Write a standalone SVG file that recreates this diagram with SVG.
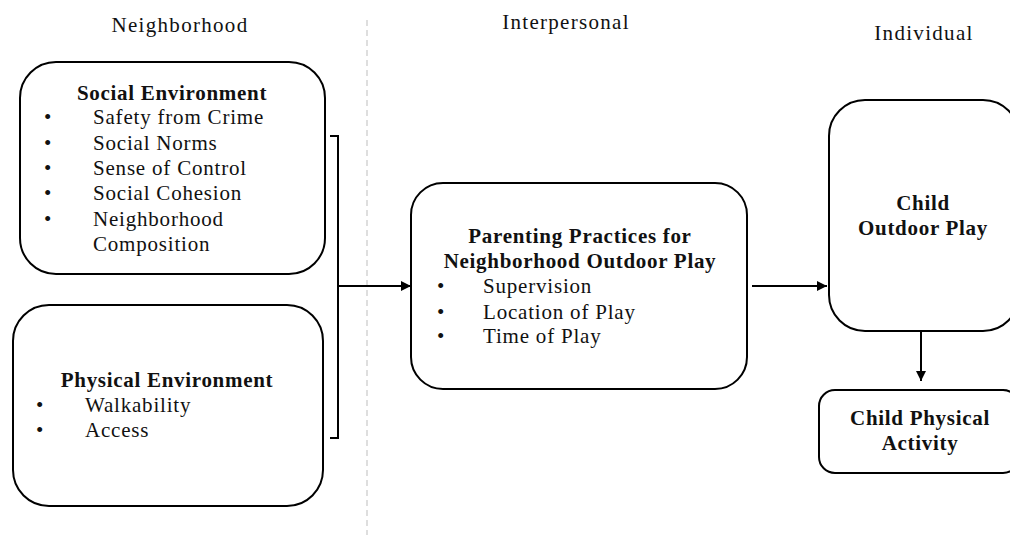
<svg xmlns="http://www.w3.org/2000/svg" width="1010" height="535" viewBox="0 0 1010 535">
<defs>
<marker id="ah" viewBox="0 0 10 10" refX="10" refY="5" markerWidth="10" markerHeight="10" markerUnits="userSpaceOnUse" orient="auto">
<path d="M0,0 L10,5 L0,10 Z" fill="#000"/>
</marker>
<style>
text{font-family:"Liberation Serif","Times New Roman",serif;font-size:21px;fill:#111;letter-spacing:0.8px}
.h{letter-spacing:1.3px}
.b{font-weight:bold;letter-spacing:0.7px}
.m{text-anchor:middle}
.d{letter-spacing:0}
.box{fill:#fff;stroke:#000;stroke-width:2}
.ln{fill:none;stroke:#000;stroke-width:2}
</style>
</defs>
<rect width="1010" height="535" fill="#fff"/>
<line x1="367" y1="20" x2="367" y2="535" stroke="#c8c8c8" stroke-width="1.2" stroke-dasharray="6,4"/>
<g id="headers">
<text class="h m" x="180" y="32">Neighborhood</text>
<text class="h m" x="566" y="29">Interpersonal</text>
<text class="h m" x="924" y="40">Individual</text>
</g>
<g id="social">
<rect class="box" x="20" y="62" width="305" height="212" rx="36"/>
<text class="b m" x="172" y="100">Social Environment</text>
<text class="d" x="44" y="124">•</text><text x="93" y="124">Safety from Crime</text>
<text class="d" x="44" y="150">•</text><text x="93" y="150">Social Norms</text>
<text class="d" x="44" y="175">•</text><text x="93" y="175">Sense of Control</text>
<text class="d" x="44" y="200">•</text><text x="93" y="200">Social Cohesion</text>
<text class="d" x="44" y="226">•</text><text x="93" y="226">Neighborhood</text>
<text x="93" y="251">Composition</text>
</g>
<g id="physical">
<rect class="box" x="13" y="305" width="310" height="201" rx="36"/>
<text class="b m" x="167" y="387">Physical Environment</text>
<text class="d" x="36" y="412">•</text><text x="85" y="412">Walkability</text>
<text class="d" x="36" y="437">•</text><text x="85" y="437">Access</text>
</g>
<g id="parenting">
<rect class="box" x="411" y="183" width="336" height="206" rx="32"/>
<text class="b m" x="580" y="243">Parenting Practices for</text>
<text class="b m" x="580" y="268">Neighborhood Outdoor Play</text>
<text class="d" x="437" y="293">•</text><text x="483" y="293">Supervision</text>
<text class="d" x="437" y="319">•</text><text x="483" y="319">Location of Play</text>
<text class="d" x="437" y="343">•</text><text x="483" y="343">Time of Play</text>
</g>
<g id="outdoor">
<rect class="box" x="829" y="100" width="190" height="231" rx="36"/>
<text class="b m" x="923" y="210">Child</text>
<text class="b m" x="923" y="235">Outdoor Play</text>
</g>
<g id="activity">
<rect class="box" x="819" y="390" width="200" height="83" rx="16"/>
<text class="b m" x="920" y="425">Child Physical</text>
<text class="b m" x="920" y="450">Activity</text>
</g>
<g id="connectors">
<path class="ln" d="M330,136 H338 V438 H330"/>
<line class="ln" x1="338" y1="286" x2="411" y2="286" marker-end="url(#ah)"/>
<line class="ln" x1="752" y1="286" x2="827" y2="286" marker-end="url(#ah)"/>
<line class="ln" x1="921" y1="331" x2="921" y2="381" marker-end="url(#ah)"/>
</g>
</svg>
